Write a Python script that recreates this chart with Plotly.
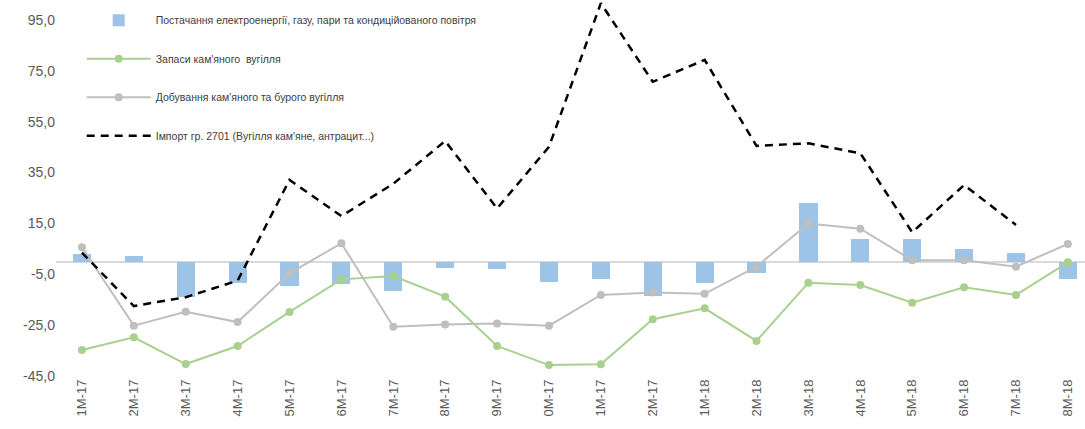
import plotly.graph_objects as go

categories = ["1М-17", "2М-17", "3М-17", "4М-17", "5М-17", "6М-17", "7М-17", "8М-17", "9М-17", "0М-17",
              "1М-17", "2М-17", "1М-18", "2М-18", "3М-18", "4М-18", "5М-18", "6М-18", "7М-18", "8М-18"]

supply_vals = [2.8, 2.3, -14.0, -8.5, -9.5, -8.9, -11.4, -2.4, -2.9, -7.9,
               -6.8, -13.5, -8.5, -4.3, 23.2, 8.9, 8.9, 4.9, 3.5, -6.8]
stocks_vals = [-34.8, -29.8, -40.3, -33.2, -19.8, -7.0, -5.7, -13.8, -33.2, -40.7,
               -40.4, -22.7, -18.4, -31.2, -8.3, -9.2, -16.2, -10.1, -13.1, -0.3]
mining_vals = [5.6, -25.2, -19.7, -23.8, -4.6, 7.2, -25.6, -24.7, -24.4, -25.2,
               -13.1, -12.2, -12.7, -2.0, 15.0, 12.9, 0.5, 0.5, -2.0, 6.9]
import_vals = [3.5, -17.5, -14.0, -7.5, 32.1, 17.9, 30.6, 47.4, 20.9, 45.1,
               101.6, 70.7, 79.3, 45.5, 46.5, 42.6, 11.5, 30.1, 14.4, None]

y_ticks = [-45, -25, -5, 15, 35, 55, 75, 95]
y_ticktext = ["-45,0", "-25,0", "-5,0", "15,0", "35,0", "55,0", "75,0", "95,0"]

x = list(range(len(categories)))

fig = go.Figure()
fig.add_trace(go.Bar(
    x=x, y=supply_vals, width=0.35,
    name="Постачання електроенергії, газу, пари та кондиційованого повітря",
    marker=dict(color="#9DC3E6", line=dict(width=0)),
    legendgroup="a",
))
fig.add_trace(go.Scatter(
    x=x, y=stocks_vals, mode="lines+markers",
    name="Запаси кам'яного  вугілля",
    line=dict(color="#A9D18E", width=2),
    marker=dict(color="#A9D18E", size=8),
    legendgroup="b",
))
fig.add_trace(go.Scatter(
    x=x, y=mining_vals, mode="lines+markers",
    name="Добування кам'яного та бурого вугілля",
    line=dict(color="#BFBFBF", width=2),
    marker=dict(color="#BFBFBF", size=8),
    legendgroup="c",
))
fig.add_trace(go.Scatter(
    x=x, y=import_vals, mode="lines",
    name="Імпорт гр. 2701 (Вугілля кам'яне, антрацит...)",
    line=dict(color="#000000", width=2.5, dash="8px,6px"),
    legendgroup="d",
))

fig.update_layout(
    width=1085, height=429,
    margin=dict(l=56, r=0, t=0, b=53),
    paper_bgcolor="white", plot_bgcolor="white",
    font=dict(family="Liberation Sans, Arial, sans-serif", color="#595959"),
    showlegend=True,
    legend=dict(
        x=0.025, y=0.985, xanchor="left", yanchor="top",
        font=dict(size=10.5, color="#404040"),
        tracegroupgap=19.5,
        itemwidth=64,
        bgcolor="rgba(0,0,0,0)",
    ),
    bargap=0,
)
fig.update_xaxes(
    range=[-0.5, 19.33],
    tickmode="array", tickvals=x, ticktext=categories,
    tickangle=-90, tickfont=dict(size=13, color="#595959"),
    showgrid=False, showline=False, zeroline=False, ticks="",
)
fig.update_yaxes(
    range=[-45, 102.86],
    tickmode="array", tickvals=y_ticks, ticktext=y_ticktext,
    tickfont=dict(size=14, color="#595959"),
    showgrid=False, showline=False,
    zeroline=True, zerolinecolor="#D9D9D9", zerolinewidth=2,
    ticks="",
)

fig.write_html("out.html", config={"displayModeBar": False},
               post_script="document.body.style.margin='0';")
